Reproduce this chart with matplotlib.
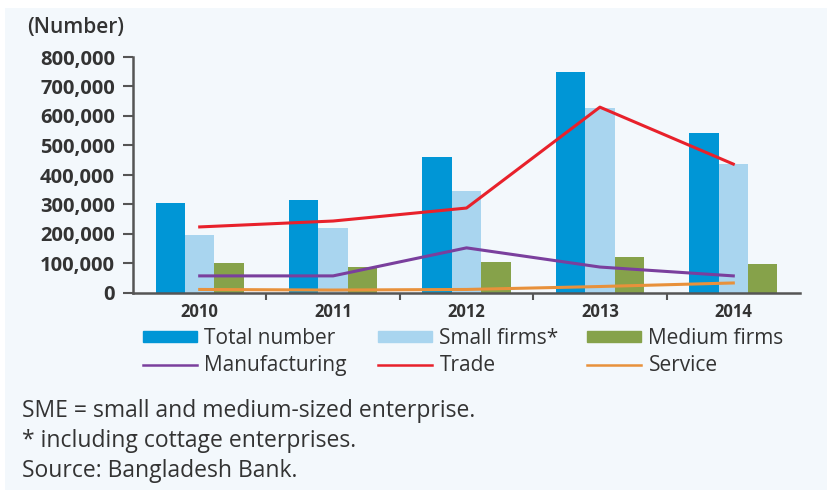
import matplotlib
matplotlib.use("Agg")
import matplotlib.pyplot as plt
import numpy as np
from matplotlib.patches import Rectangle, Patch
from matplotlib.lines import Line2D
from matplotlib.ticker import FuncFormatter, FixedLocator

years = ["2010", "2011", "2012", "2013", "2014"]
total_number = [305000, 315000, 461000, 749000, 542000]
small_firms = [197000, 220000, 346000, 627000, 437000]
medium_firms = [102000, 88000, 105000, 122000, 98000]
manufacturing = [58000, 58000, 153000, 88000, 58000]
trade = [224000, 244000, 288000, 630000, 437000]
service = [12000, 10000, 12000, 22000, 34000]
yticks = [0, 100000, 200000, 300000, 400000, 500000, 600000, 700000, 800000]

C_TOTAL = "#0096d6"
C_SMALL = "#a9d5ef"
C_MED = "#86a24a"
C_MAN = "#7a3f9d"
C_TRADE = "#e8212b"
C_SERV = "#e8913b"
TXT = "#333333"

plt.rcParams['font.family'] = ['Open Sans', 'DejaVu Sans']

fig = plt.figure(figsize=(8.28, 4.90), dpi=100)
fig.patch.set_facecolor("white")
fig.patches.append(Rectangle((5/828, 0), 1 - 5/828, 1 - 8/490, transform=fig.transFigure,
                             facecolor="#f3f8fc", edgecolor="none", zorder=-10))

ax = fig.add_axes([133/828, 1 - 293/490, (800 - 133)/828, (293 - 57)/490])
ax.set_facecolor("none")

x = np.arange(len(years))
w = 0.22
ax.bar(x - w, total_number, w, color=C_TOTAL, zorder=2)
ax.bar(x, small_firms, w, color=C_SMALL, zorder=2)
ax.bar(x + w, medium_firms, w, color=C_MED, zorder=2)
ax.plot(x, manufacturing, color=C_MAN, lw=2.2, zorder=3)
ax.plot(x, trade, color=C_TRADE, lw=2.2, zorder=3)
ax.plot(x, service, color=C_SERV, lw=2.2, zorder=3)

ax.set_xlim(-0.5, 4.5)
ax.set_ylim(0, 800000)
ax.set_yticks(yticks)
ax.yaxis.set_major_formatter(FuncFormatter(lambda v, p: f"{int(v):,}"))
ax.tick_params(axis="y", length=7, width=1.5, color="#555555", pad=6,
               labelsize=14.5, labelcolor=TXT)
for t in ax.get_yticklabels():
    t.set_fontweight("bold")

ax.xaxis.set_major_locator(FixedLocator([0.5, 1.5, 2.5, 3.5]))
ax.xaxis.set_minor_locator(FixedLocator(list(x)))
ax.set_xticklabels([], minor=False)
ax.set_xticklabels(years, minor=True)
ax.tick_params(axis="x", which="major", length=5, width=1.5, color="#555555", direction="out")
ax.tick_params(axis="x", which="minor", length=0, pad=7, labelsize=12, labelcolor=TXT)
for t in ax.get_xticklabels(minor=True):
    t.set_fontweight("bold")

for s in ["top", "right"]:
    ax.spines[s].set_visible(False)
for s in ["left", "bottom"]:
    ax.spines[s].set_color("#555555")
    ax.spines[s].set_linewidth(1.8)

fig.text(27/828, 1 - 27/490, "(Number)", fontsize=15, color=TXT, fontweight="semibold",
         va="center", ha="left")

columns = [
    ([Patch(color=C_TOTAL), Line2D([], [], color=C_MAN, lw=1.8)], ["Total number", "Manufacturing"], 143),
    ([Patch(color=C_SMALL), Line2D([], [], color=C_TRADE, lw=1.8)], ["Small firms*", "Trade"], 378),
    ([Patch(color=C_MED), Line2D([], [], color=C_SERV, lw=1.8)], ["Medium firms", "Service"], 587),
]
for handles, labels, xpos in columns:
    leg = fig.legend(handles, labels, loc="upper left", bbox_to_anchor=(xpos/828, 1 - 328/490),
                     frameon=False, fontsize=15, handlelength=2.6, handleheight=0.42,
                     handletextpad=0.35, labelspacing=0.3, borderpad=0, borderaxespad=0)
    for t in leg.get_texts():
        t.set_color(TXT)

notes = ["SME = small and medium-sized enterprise.", "* including cottage enterprises.",
         "Source: Bangladesh Bank."]
for i, n in enumerate(notes):
    fig.text(22/828, 1 - (411 + 30*i)/490, n, fontsize=16.5, color=TXT, va="center", ha="left")

fig.savefig("out.png", dpi=100)
